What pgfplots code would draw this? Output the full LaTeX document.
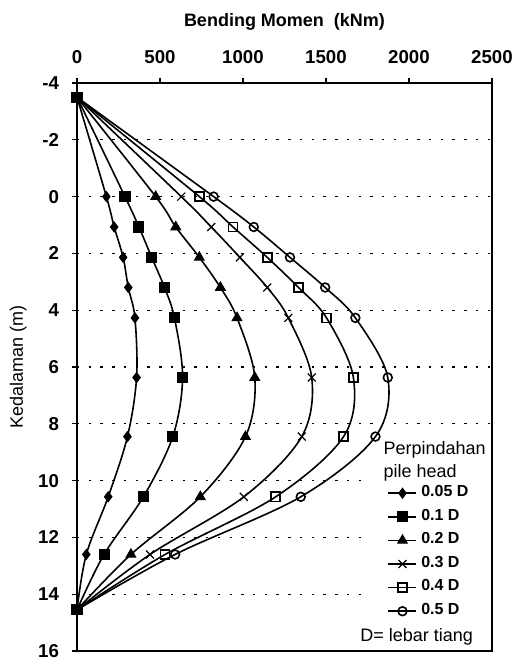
\documentclass[border=0pt]{standalone}
\usepackage{fontspec}
\setmainfont{Liberation Sans}
\usepackage{pgfplots}
\pgfplotsset{compat=1.18}
\pgfplotstableread{
d      a     b     c     e     f     g
-3.5   0     0     0     0     0     0
0      177   289   474   628   737   823
1.07   224   373   595   809   940   1065
2.14   278   450   737   981   1146  1283
3.2    309   527   864   1146  1334  1495
4.27   349   587   964   1273  1503  1677
6.37   359   636   1071  1414  1665  1872
8.45   304   577   1015  1354  1606  1798
10.57  188   400   743   1005  1197  1348
12.6   56    163   325   440   531   591
14.55  0     0     0     0     0     0
}\data
\usepackage{pgfplotstable}
\begin{document}
\begin{tikzpicture}
\begin{axis}[
  name=ax,
  scale only axis,
  width=311.25pt, height=426pt,
  xmin=0, xmax=2500, ymin=-4, ymax=16,
  y dir=reverse,
  xtick={0,500,...,2500},
  ytick={-4,-2,...,16},
  xticklabel pos=right, xtick pos=right,
  ytick pos=left,
  tick align=outside,
  major tick length=4pt,
  axis line style={line width=1pt},
  every tick/.style={black, line width=0.8pt},
  /pgf/number format/assume math mode=true,
  /pgf/number format/1000 sep={},
  ticklabel style={font=\fontsize{14}{16}\selectfont\bfseries},
  xticklabel style={yshift=7pt},
  yticklabel style={xshift=-6pt},
  ymajorgrids,
  grid style={black, line width=0.8pt, dash pattern=on 1.8pt off 7pt},
  legend style={at={(axis cs:1870,10.13)}, anchor=north west, draw=none, fill=none,
    font=\fontsize{12}{14}\selectfont\bfseries, row sep=4.7pt, inner sep=0pt,
    nodes={inner ysep=0pt, inner xsep=3pt, text height=9pt, text depth=4pt}},
  legend cell align=left,
  legend image code/.code={\draw[mark repeat=2,mark phase=2, sharp plot] plot coordinates {(0pt,0pt) (10.5pt,0pt) (21pt,0pt)};},
  every axis plot/.append style={black, line width=1.2pt, smooth, tension=0.55},
  mark options={solid, line width=0.9pt},
]
\fill[white] (axis cs:1725,8.75) rectangle (axis cs:2495,15.9);
\addplot[mark=diamond*, mark size=3.6pt] table[x=a, y=d] {\data};
\addlegendentry{0.05 D}
\addplot[mark=square*, mark size=3.7pt] table[x=b, y=d] {\data};
\addlegendentry{0.1 D}
\addplot[mark=triangle*, mark size=4pt] table[x=c, y=d] {\data};
\addlegendentry{0.2 D}
\addplot[mark=x, mark size=4.2pt] table[x=e, y=d] {\data};
\addlegendentry{0.3 D}
\addplot[mark=square, mark size=3.4pt, mark options={fill=white}] table[x=f, y=d] {\data};
\addlegendentry{0.4 D}
\addplot[mark=o, mark size=3.3pt, mark options={fill=white}] table[x=g, y=d] {\data};
\addlegendentry{0.5 D}
\node[anchor=north west, align=left, inner sep=0pt, font=\fontsize{13.5}{17}\selectfont] at (axis cs:1845,8.62) {Perpindahan\\pile head};
\node[anchor=west, inner sep=0pt, font=\fontsize{13.5}{16}\selectfont] at (axis cs:1705,15.5) {D= lebar tiang};
\end{axis}
\node[font=\fontsize{13.5}{15}\selectfont\bfseries] at ([yshift=46pt]ax.north) {Bending Momen\ \ (kNm)};
\node[rotate=90, font=\fontsize{13.5}{16}\selectfont] at ([xshift=-44pt]ax.west) {Kedalaman (m)};
\pgfresetboundingbox
\path ([xshift=-57.75pt,yshift=-7.5pt]ax.south west) rectangle ([xshift=16.5pt,yshift=62.25pt]ax.north east);
\end{tikzpicture}
\end{document}
